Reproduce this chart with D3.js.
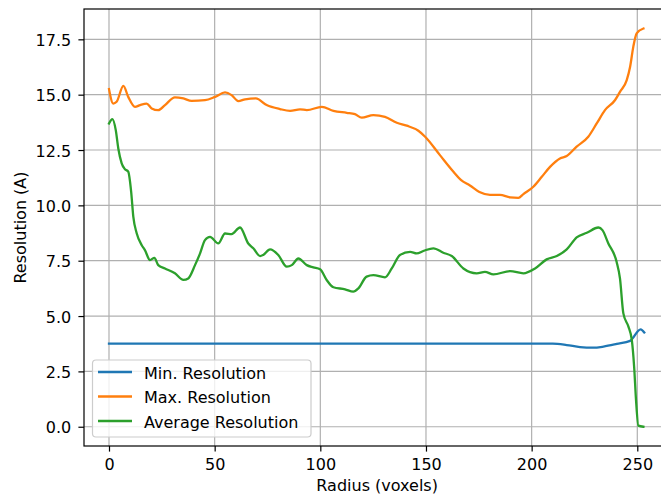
<!DOCTYPE html>
<html>
<head>
<meta charset="utf-8">
<script src="https://cdn.jsdelivr.net/npm/d3@7"></script>
<style>
  html, body { margin: 0; padding: 0; background: #fff; }
  svg { display: block; }
  text { font-family: "DejaVu Sans", sans-serif; }
</style>
</head>
<body>
<div id="chart"></div>
<script>
// ---- Data ----
const seriesNames = ["Min. Resolution", "Max. Resolution", "Average Resolution"];
const seriesColors = ["#1f77b4", "#ff7f0e", "#2ca02c"];

const minRadius = [0, 210, 216.6, 222.9, 229, 234, 240.3, 246.6, 251.6, 253.3];
const minValues = [3.75, 3.75, 3.69, 3.6, 3.57, 3.62, 3.74, 3.88, 4.4, 4.26];

const maxRadius = [0, 2, 3.6, 6.8, 9.1, 12.3, 14.7, 17.8, 20.2, 23.3, 26.5, 31.2, 35.2, 39.1, 45.4, 50.2, 54.9, 58, 61.2, 64.4, 69.5, 74.6, 80.9, 85.7, 90.4, 93.6, 100.7, 106.2, 112.5, 116.4, 119.6, 125.1, 130.6, 136.2, 140.9, 146.4, 149.6, 156.6, 163, 166.5, 170.8, 175.3, 180.3, 185, 189.8, 193.7, 196.1, 200.8, 204.8, 208.7, 213.4, 216.6, 221.3, 226.8, 230.8, 234.7, 239.5, 241.8, 245, 246.6, 248.1, 249.7, 252.9];
const maxValues = [15.25, 14.6, 14.68, 15.4, 14.9, 14.45, 14.53, 14.6, 14.38, 14.3, 14.53, 14.88, 14.83, 14.72, 14.75, 14.9, 15.1, 14.98, 14.71, 14.79, 14.83, 14.53, 14.35, 14.27, 14.34, 14.3, 14.45, 14.27, 14.18, 14.12, 13.96, 14.08, 14.0, 13.73, 13.6, 13.37, 13.1, 12.27, 11.52, 11.15, 10.9, 10.6, 10.47, 10.47, 10.36, 10.34, 10.51, 10.84, 11.29, 11.74, 12.12, 12.23, 12.65, 13.1, 13.7, 14.3, 14.76, 15.13, 15.66, 16.26, 17.16, 17.77, 17.99];

const avgRadius = [0, 1.6, 3.2, 4.4, 6, 7.4, 9.1, 10.5, 11.5, 13.1, 15.5, 17, 19.4, 21.5, 23.3, 26.5, 31.2, 35.2, 37.5, 40.7, 43.1, 45.4, 47.8, 51.7, 54.9, 58, 62, 65.9, 68.3, 71.5, 73, 76.2, 80.1, 84.1, 86.5, 89.6, 93.6, 96.7, 99.9, 103, 106.2, 111.7, 115.6, 118, 121.9, 125.1, 130.6, 133.8, 137.7, 142.5, 145.6, 149, 153.5, 158.2, 162.2, 167.7, 174, 177.9, 181.9, 189.8, 196.1, 201.6, 207.1, 211.9, 216.6, 221.3, 226.1, 231.6, 233.5, 236.3, 240.2, 241.8, 243.4, 245.8, 247.4, 248.5, 249.4, 250.5, 252.9];
const avgValues = [13.7, 13.9, 13.4, 12.57, 11.9, 11.65, 11.52, 10.6, 9.49, 8.74, 8.2, 7.98, 7.53, 7.63, 7.3, 7.15, 6.93, 6.63, 6.7, 7.3, 7.83, 8.43, 8.58, 8.28, 8.73, 8.7, 9.0, 8.28, 8.06, 7.71, 7.76, 8.01, 7.76, 7.23, 7.3, 7.6, 7.3, 7.2, 7.11, 6.63, 6.3, 6.21, 6.1, 6.25, 6.78, 6.85, 6.75, 7.15, 7.76, 7.9, 7.83, 7.95, 8.06, 7.86, 7.71, 7.15, 6.93, 7.0, 6.88, 7.03, 6.93, 7.15, 7.56, 7.71, 8.01, 8.55, 8.76, 9.0, 8.88, 8.28, 7.45, 6.7, 5.12, 4.52, 3.92, 2.71, 1.2, 0.05, 0.0];

const xTicks = [0, 50, 100, 150, 200, 250];
const yTicks = [0, 2.5, 5, 7.5, 10, 12.5, 15, 17.5];
const xLabel = "Radius (voxels)";
const yLabel = "Resolution (A)";

// ---- Layout ----
const W = 661, H = 497;
const padL = 84, padT = 9, padB = 446;
const ppu = (637.3 - 109) / 250;
const xMin = -25 / ppu, xMax = 265.6;
const padR = padL + (xMax - xMin) * ppu;

const svg = d3.select("#chart").append("svg")
  .attr("width", W).attr("height", H);

const x = d3.scaleLinear().domain([xMin, xMax]).range([padL, padR]);
const y = d3.scaleLinear().domain([-0.87, 18.87]).range([padB, padT]);

const fs = 16;
const tickLen = 5.6;
const thin = 1.2;

// grid
const grid = svg.append("g");
grid.selectAll("line.gx").data(xTicks).join("line")
  .attr("x1", d => x(d)).attr("x2", d => x(d))
  .attr("y1", padT).attr("y2", padB)
  .attr("stroke", "#b0b0b0").attr("stroke-width", thin);
grid.selectAll("line.gy").data(yTicks).join("line")
  .attr("x1", padL).attr("x2", padR)
  .attr("y1", d => y(d)).attr("y2", d => y(d))
  .attr("stroke", "#b0b0b0").attr("stroke-width", thin);

// lines
const series = [
  { r: minRadius, v: minValues },
  { r: maxRadius, v: maxValues },
  { r: avgRadius, v: avgValues }
];
const line = d3.line().x(d => x(d[0])).y(d => y(d[1])).curve(d3.curveMonotoneX);
series.forEach((s, i) => {
  const pts = s.r.map((r, j) => [r, s.v[j]]);
  svg.append("path").datum(pts)
    .attr("d", line)
    .attr("fill", "none")
    .attr("stroke", seriesColors[i])
    .attr("stroke-width", 2.3)
    .attr("stroke-linejoin", "round")
    .attr("stroke-linecap", "square");
});

// axes
const xAxis = d3.axisBottom(x).tickValues(xTicks).tickFormat(d3.format("d"))
  .tickSize(tickLen).tickPadding(7.5);
const yAxis = d3.axisLeft(y).tickValues(yTicks).tickFormat(d3.format(".1f"))
  .tickSize(tickLen).tickPadding(7.2);

const gx = svg.append("g").attr("transform", `translate(0,${padB})`).call(xAxis);
const gy = svg.append("g").attr("transform", `translate(${padL},0)`).call(yAxis);
[gx, gy].forEach(g => {
  g.select(".domain").remove();
  g.selectAll(".tick line").attr("stroke", "#000").attr("stroke-width", thin);
  g.selectAll(".tick text").attr("fill", "#000").style("font-size", fs + "px")
    .style("font-family", "'DejaVu Sans', sans-serif");
});
gy.selectAll(".tick text").attr("dy", "0.38em");

// spines
svg.append("rect")
  .attr("x", padL).attr("y", padT)
  .attr("width", padR - padL).attr("height", padB - padT)
  .attr("fill", "none").attr("stroke", "#000").attr("stroke-width", thin);

// axis labels
svg.append("text")
  .attr("x", (padL + padR) / 2).attr("y", 491)
  .attr("text-anchor", "middle").style("font-size", fs + "px").attr("fill", "#000")
  .text(xLabel);
svg.append("text")
  .attr("transform", `translate(25.5,${(padT + padB) / 2}) rotate(-90)`)
  .attr("text-anchor", "middle").style("font-size", fs + "px").attr("fill", "#000")
  .text(yLabel);

// legend
const lg = svg.append("g");
lg.append("rect")
  .attr("x", 92.5).attr("y", 360).attr("width", 218.5).attr("height", 77)
  .attr("rx", 3.5).attr("ry", 3.5)
  .attr("fill", "#fff").attr("fill-opacity", 0.8)
  .attr("stroke", "#cccccc").attr("stroke-width", thin);
seriesNames.forEach((name, i) => {
  const cy = 372 + i * 24.5;
  lg.append("line")
    .attr("x1", 98).attr("x2", 132).attr("y1", cy).attr("y2", cy)
    .attr("stroke", seriesColors[i]).attr("stroke-width", 2.3);
  lg.append("text")
    .attr("x", 144).attr("y", cy + 6.5)
    .style("font-size", fs + "px").attr("fill", "#000")
    .text(name);
});
</script>
</body>
</html>
